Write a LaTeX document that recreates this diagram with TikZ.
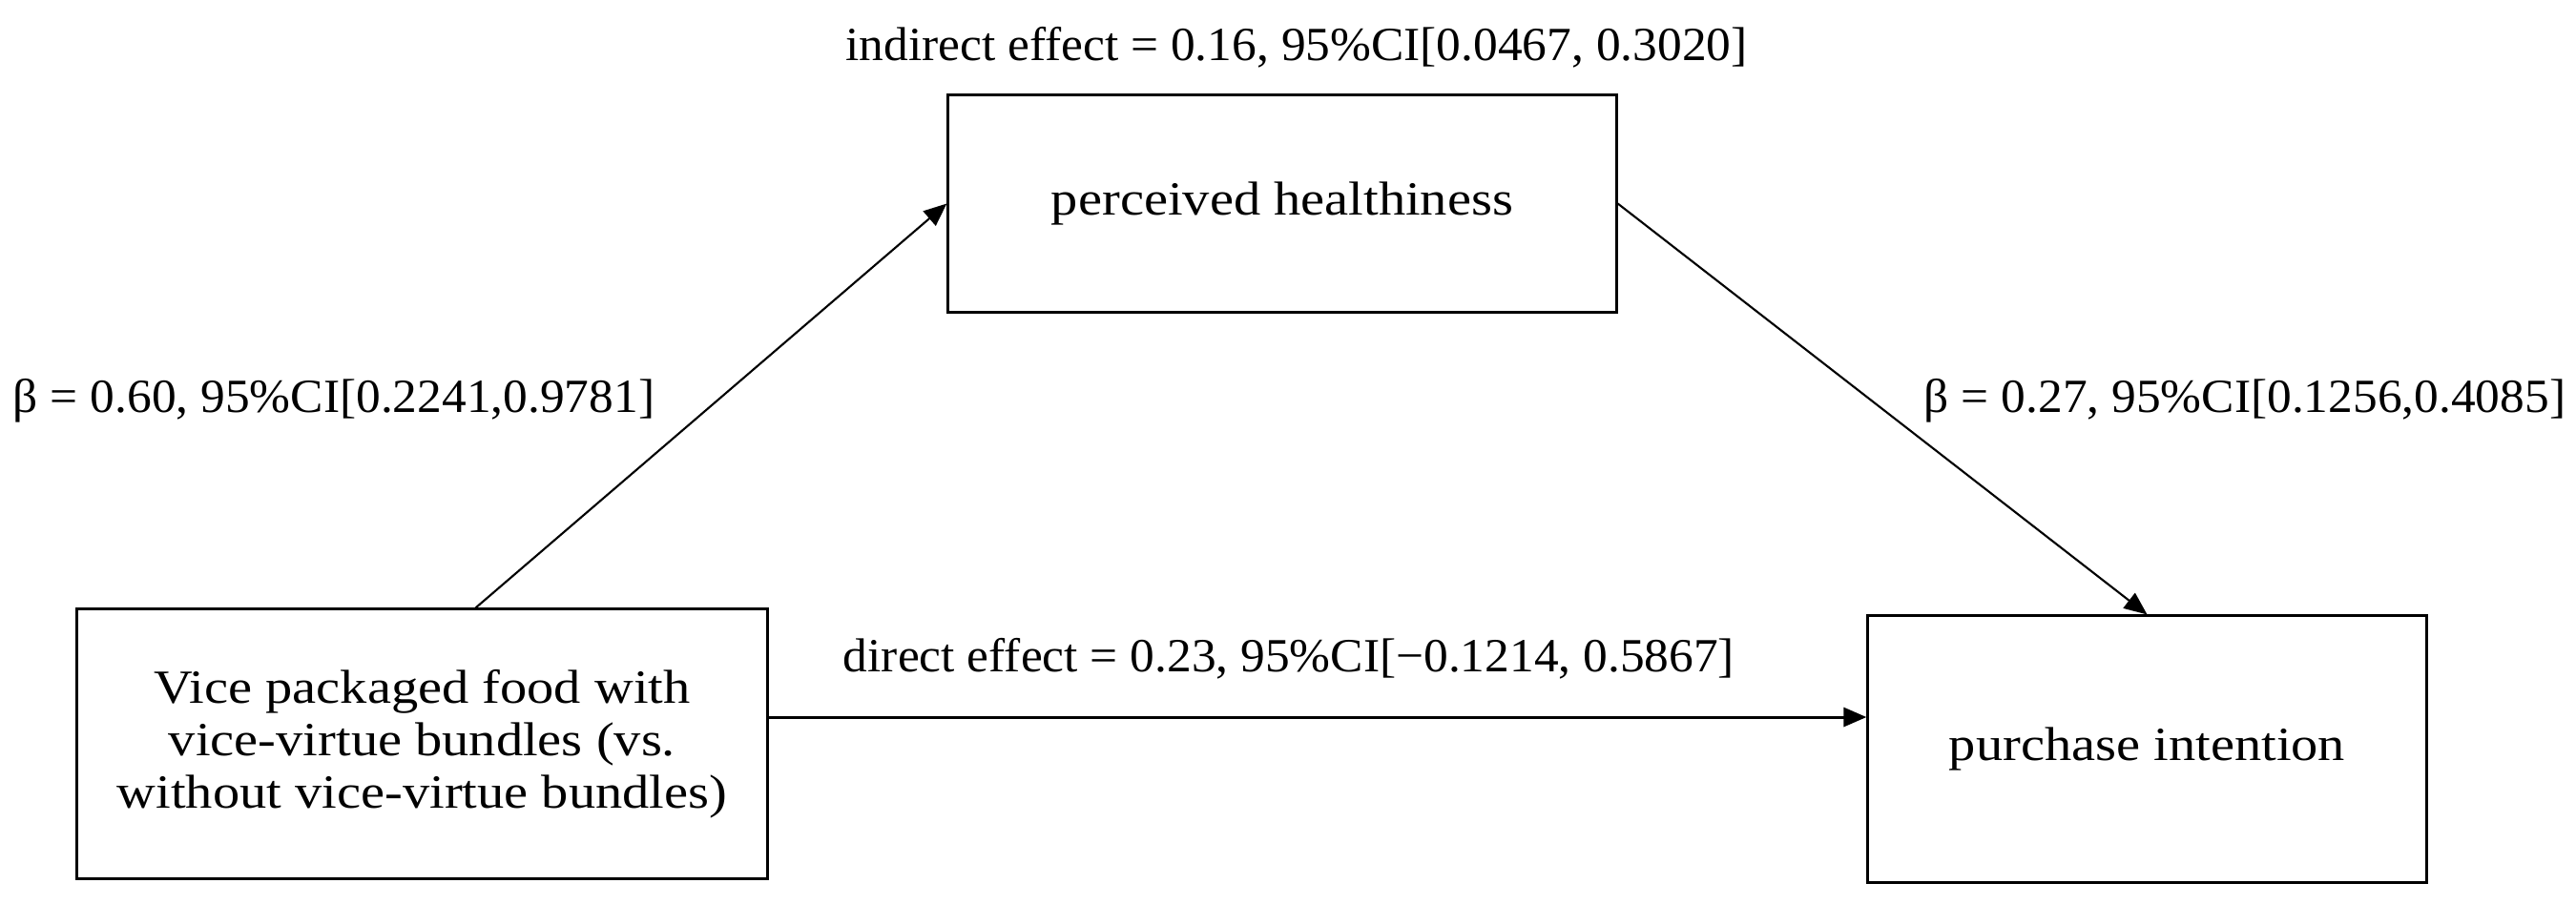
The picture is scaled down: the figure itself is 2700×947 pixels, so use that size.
\documentclass[tikz,border=0pt]{standalone}
\usepackage{fontspec}
\setmainfont{Liberation Serif}[FakeStretch=1.03]
\newfontfamily\boxfont{Liberation Serif}[FakeStretch=1.13]
\usetikzlibrary{arrows.meta,calc}
\tikzset{
  box/.style={draw, line width=0.85pt, align=center, inner sep=0pt,
    font=\boxfont\fontsize{14.2}{15.7}\selectfont},
  lbl/.style={inner sep=0pt, anchor=base, font=\fontsize{14.2}{15.7}\selectfont},
  arr/.style={line width=0.6pt, -{Triangle[length=0.24cm,width=0.2cm]}},
  arrthick/.style={line width=0.85pt, -{Triangle[length=0.24cm,width=0.2cm]}}
}
\begin{document}
\begin{tikzpicture}[x=0.01cm,y=-0.01cm]
\useasboundingbox (0,0) rectangle (2700,947);
\node[box, minimum width=7cm, minimum height=2.27cm] (T) at (1344,213.5) {perceived healthiness};
\node[box, minimum width=7.23cm, minimum height=2.82cm] (L) at (442.5,780)
  {Vice packaged food with\\vice-virtue bundles (vs.\\without vice-virtue bundles)};
\node[box, minimum width=5.85cm, minimum height=2.79cm] (R) at (2250.5,785.5) {purchase intention};
\node[lbl] (ind) at (1359,63) {indirect effect = 0.16, 95\%CI[0.0467, 0.3020]};
\node[lbl] (ba) at (350,432) {β = 0.60, 95\%CI[0.2241,0.9781]};
\node[lbl] (bb) at (2353,432) {β = 0.27, 95\%CI[0.1256,0.4085]};
\node[lbl] (dir) at (1351,704) {direct effect = 0.23, 95\%CI[−0.1214, 0.5867]};
\draw[arr] ($(L.north)+(56,0)$) -- (T.west);
\draw[arr] (T.east) -- (R.north);
\coordinate (d1) at ($(L.east)+(0,-28)$);
\draw[arrthick] (d1) -- (d1 -| R.west);
\end{tikzpicture}
\end{document}
